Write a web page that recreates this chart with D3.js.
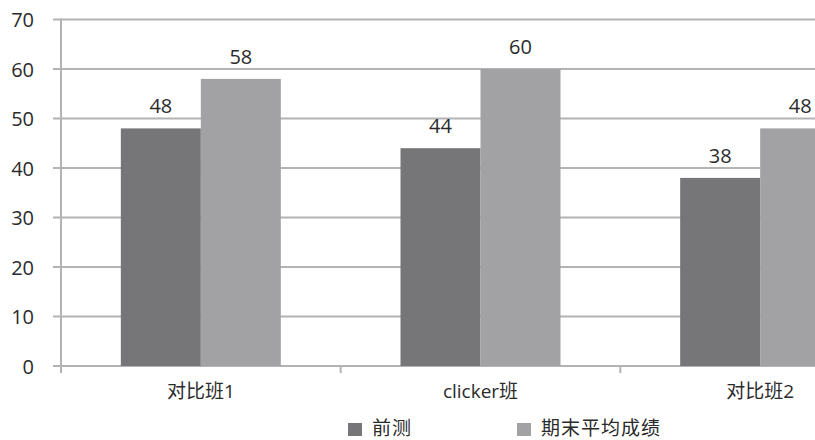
<!DOCTYPE html>
<html>
<head>
<meta charset="utf-8">
<script src="https://cdn.jsdelivr.net/npm/d3@7/dist/d3.min.js"></script>
<style>
  html, body { margin: 0; padding: 0; background: #fff; }
  svg { display: block; }
  text { font-family: "Open Sans", "Noto Sans CJK SC", sans-serif; fill: #2b2b2b; }
</style>
</head>
<body>
<svg id="chart" width="815" height="440"></svg>
<script>
// Classes and their average scores
const categories = ["对比班1", "clicker班", "对比班2"];
const seriesNames = ["前测", "期末平均成绩"];
const pretest = [48, 44, 38];
const finalAvg = [58, 60, 48];
const yTicks = [0, 10, 20, 30, 40, 50, 60, 70];

const seriesValues = [pretest, finalAvg];
const colors = ["#767679", "#a2a2a5"];

const svg = d3.select("#chart");
const W = 815, H = 440;

// Plot area runs past the right edge of the canvas
const plotLeft = 61, plotRight = 900;
const y = d3.scaleLinear().domain([0, 70]).range([366, 19.5]);
const x = d3.scaleBand().domain(categories).range([plotLeft, plotRight]).paddingInner(0).paddingOuter(0);
const barW = 80;
const xSub = d3.scaleBand().domain(seriesNames).range([x.bandwidth() / 2 - barW, x.bandwidth() / 2 + barW]);

// Horizontal gridlines with short ticks left of the axis
svg.append("g")
  .selectAll("line")
  .data(yTicks)
  .join("line")
  .attr("x1", plotLeft - 8)
  .attr("x2", W)
  .attr("y1", d => y(d))
  .attr("y2", d => y(d))
  .attr("stroke", "#b3b3b5")
  .attr("stroke-width", 2);

// Bars
const groups = svg.append("g")
  .selectAll("g")
  .data(categories)
  .join("g")
  .attr("transform", d => `translate(${x(d)},0)`);

groups.selectAll("rect")
  .data((d, i) => seriesNames.map((s, j) => ({ s, v: seriesValues[j][i], j })))
  .join("rect")
  .attr("x", d => xSub(d.s))
  .attr("width", xSub.bandwidth())
  .attr("y", d => y(d.v))
  .attr("height", d => y(0) - y(d.v))
  .attr("fill", d => colors[d.j]);

// Value labels
groups.selectAll("text.val")
  .data((d, i) => seriesNames.map((s, j) => ({ s, v: seriesValues[j][i], j })))
  .join("text")
  .attr("class", "val")
  .attr("x", d => xSub(d.s) + xSub.bandwidth() / 2)
  .attr("y", d => y(d.v) - 15)
  .attr("text-anchor", "middle")
  .attr("font-size", 20)
  .text(d => d.v);

// Y axis
const yAxis = d3.axisLeft(y).tickValues(yTicks).tickSize(0).tickPadding(0);
const ya = svg.append("g").attr("transform", `translate(${plotLeft},0)`).call(yAxis);
ya.select(".domain").remove();
ya.selectAll("text")
  .attr("x", -27)
  .attr("dy", "0.36em")
  .attr("font-size", 20)
  .attr("font-family", "'Open Sans', sans-serif")
  .attr("fill", "#2b2b2b");

svg.append("line")
  .attr("x1", plotLeft).attr("x2", plotLeft)
  .attr("y1", y(70) - 1).attr("y2", y(0) + 7)
  .attr("stroke", "#b3b3b5").attr("stroke-width", 2);

// X axis category separators and labels
const xAxis = d3.axisBottom(x).tickSize(0).tickPadding(0);
const xa = svg.append("g").attr("transform", `translate(0,${y(0)})`).call(xAxis);
xa.select(".domain").remove();
xa.selectAll("text")
  .attr("y", 32)
  .attr("dy", 0)
  .attr("font-size", 19)
  .attr("font-family", "'Open Sans', 'Noto Sans CJK SC', sans-serif")
  .attr("fill", "#2b2b2b");

svg.append("g")
  .selectAll("line")
  .data(categories.slice(1))
  .join("line")
  .attr("x1", d => x(d)).attr("x2", d => x(d))
  .attr("y1", y(0)).attr("y2", y(0) + 7)
  .attr("stroke", "#b3b3b5").attr("stroke-width", 2);

// Legend
const legendX = [348, 517];
const legend = svg.append("g")
  .selectAll("g")
  .data(seriesNames)
  .join("g")
  .attr("transform", (d, i) => `translate(${legendX[i]},423)`);
legend.append("rect")
  .attr("width", 14).attr("height", 13)
  .attr("fill", (d, i) => colors[i]);
legend.append("text")
  .attr("x", 24)
  .attr("y", 12)
  .attr("font-size", 19)
  .attr("letter-spacing", 1)
  .attr("font-family", "'Noto Sans CJK SC', sans-serif")
  .text(d => d);
</script>
</body>
</html>
